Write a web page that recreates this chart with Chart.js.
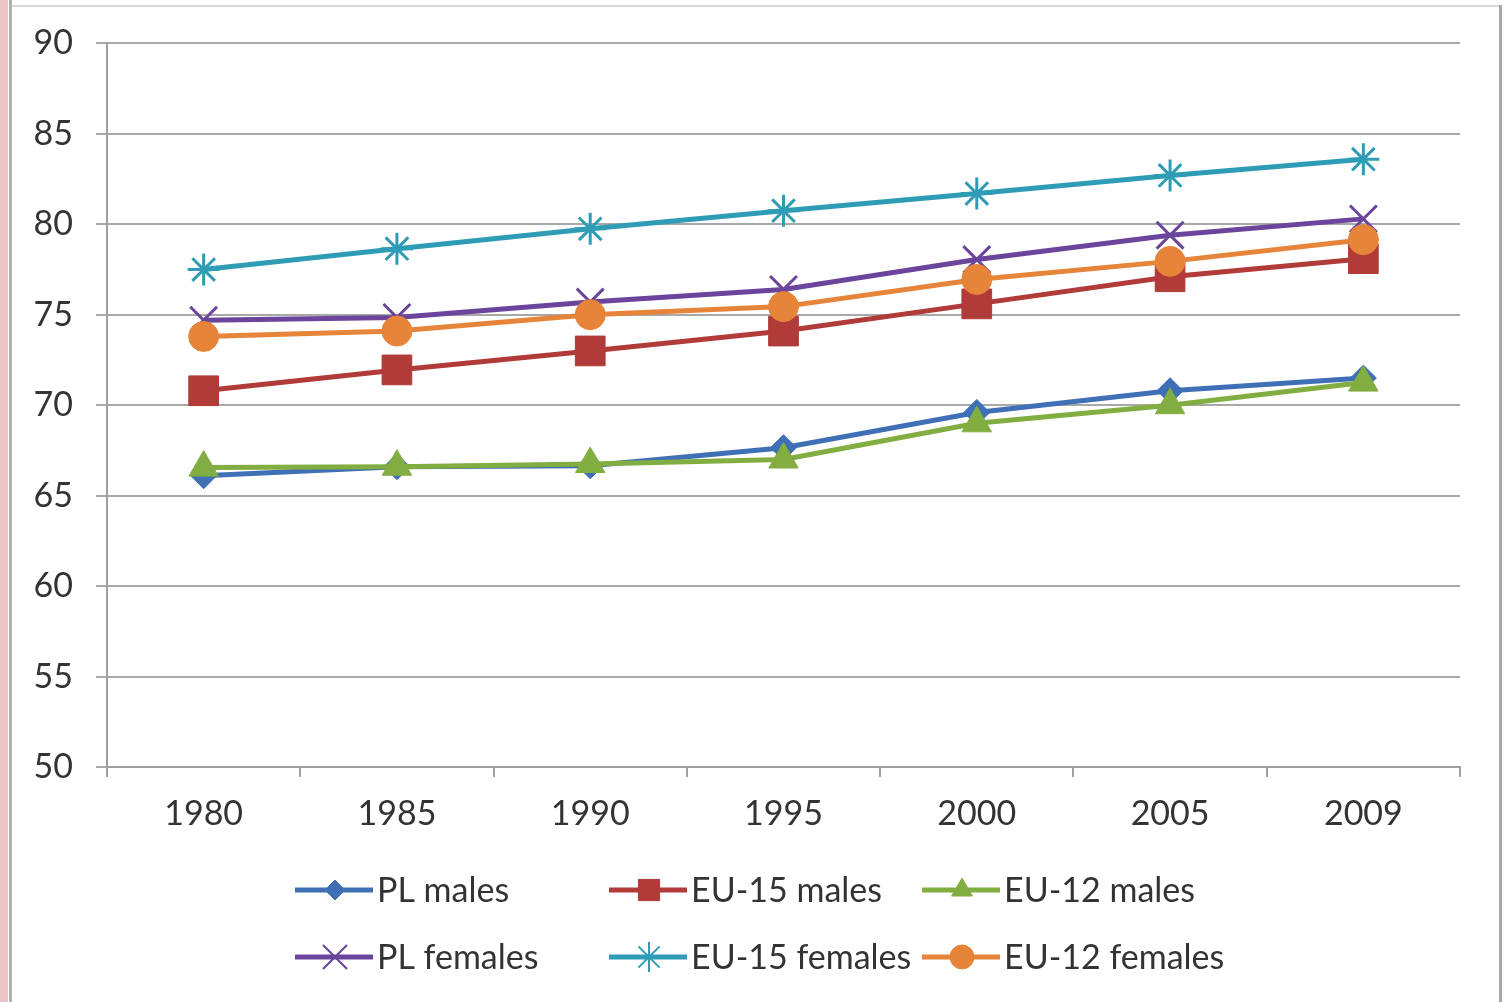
<!DOCTYPE html>
<html>
<head>
<meta charset="utf-8">
<script src="https://cdn.jsdelivr.net/npm/chart.js@4.4.0/dist/chart.umd.min.js"></script>
<style>
  html, body { margin: 0; padding: 0; background: #fff; }
  #wrap { position: relative; width: 1505px; height: 1002px; overflow: hidden; }
  #pink { position: absolute; left: 0; top: 0; width: 8px; height: 1002px; background: #e8c6c6; }
  #lb { position: absolute; left: 9px; top: 0; width: 3px; height: 1002px; background: #b0b0b0; }
  #tb { position: absolute; left: 12px; top: 5px; width: 1490px; height: 2px; background: #d8d8d8; }
  #rb { position: absolute; left: 1499px; top: 5px; width: 3px; height: 1002px; background: #a8a8a8; }
  canvas { position: absolute; left: 0; top: 0; }
</style>
</head>
<body>
<div id="wrap">
  <div id="pink"></div><div id="lb"></div><div id="tb"></div><div id="rb"></div>
  <canvas id="stage1" width="1505" height="1002"></canvas>
</div>
<script>
var years = ['1980', '1985', '1990', '1995', '2000', '2005', '2009'];

var plMales      = [66.1, 66.6, 66.65, 67.65, 69.6, 70.8, 71.5];
var eu15Males    = [70.8, 71.95, 73.0, 74.1, 75.6, 77.1, 78.1];
var eu12Males    = [66.55, 66.6, 66.75, 67.0, 69.0, 70.0, 71.25];
var plFemales    = [74.7, 74.85, 75.7, 76.4, 78.05, 79.4, 80.3];
var eu15Females  = [77.5, 78.65, 79.75, 80.75, 81.7, 82.7, 83.6];
var eu12Females  = [73.8, 74.1, 75.0, 75.45, 76.95, 77.95, 79.15];

var seriesNames = ['PL males', 'EU-15 males', 'EU-12 males', 'PL females', 'EU-15 females', 'EU-12 females'];

// line colours / marker styles (Excel 2007 look)
var colors  = ['#3f6fb5', '#b03b39', '#82ad40', '#6b449b', '#2f9cb5', '#e6843a'];
var styles  = ['rectRot', 'rect', 'triangle', 'crossRot', 'star', 'circle'];
var radii   = [13, 21, 17, 19, 16, 15];
var legRad  = [10, 15, 12, 17, 15, 12];

var canvas1 = document.getElementById('stage1');
var FONT = 'Lato, "Open Sans", sans-serif';

// custom legend: line + marker, two rows of three
var lineLegend = {
  id: 'lineLegend',
  afterDraw: function(chart) {
    var ctx = chart.ctx;
    var colX = [295, 609, 922];
    var rowY = [890, 957];
    ctx.save();
    chart.data.datasets.forEach(function(ds, i) {
      var x = colX[i % 3], y = rowY[Math.floor(i / 3)];
      ctx.strokeStyle = ds.borderColor;
      ctx.lineWidth = 5;
      ctx.beginPath();
      ctx.moveTo(x, y);
      ctx.lineTo(x + 78, y);
      ctx.stroke();
      ctx.fillStyle = ds.borderColor;
      ctx.strokeStyle = ds.borderColor;
      ctx.lineWidth = ds.pointStyle.indexOf('cross') === 0 || ds.pointStyle === 'star' ? 2 : 1;
      Chart.helpers.drawPoint(ctx, {pointStyle: ds.pointStyle, rotation: 0, radius: legRad[i], borderWidth: ctx.lineWidth}, x + 40, y);
      ctx.fillStyle = '#333333';
      ctx.font = '34px ' + FONT;
      ctx.textBaseline = 'middle';
      ctx.textAlign = 'left';
      ctx.fillText(ds.label, x + 82, y + 1);
    });
    ctx.restore();
  }
};

var allData = [plMales, eu15Males, eu12Males, plFemales, eu15Females, eu12Females];
var datasets = [];
for (var i = 0; i < allData.length; i++) {
  var thin = styles[i] === 'crossRot' || styles[i] === 'star';
  datasets.push({
    label: seriesNames[i],
    data: allData[i],
    borderColor: colors[i],
    backgroundColor: colors[i],
    borderWidth: 5,
    pointStyle: styles[i],
    pointRadius: radii[i],
    pointHoverRadius: radii[i],
    pointBorderWidth: thin ? 3 : 1,
    pointBackgroundColor: colors[i],
    pointBorderColor: colors[i],
    tension: 0,
    order: 5 - i   // later series on top, like Excel
  });
}

var chart = new Chart(canvas1, {
  type: 'line',
  data: { labels: years, datasets: datasets },
  plugins: [lineLegend],
  options: {
    responsive: false,
    animation: false,
    events: [],
    layout: { padding: { top: 27, right: 45, left: 0, bottom: 0 } },
    plugins: {
      legend: { display: false },
      tooltip: { enabled: false }
    },
    scales: {
      x: {
        offset: true,
        grid: { offset: true, drawOnChartArea: false, drawTicks: true, tickLength: 10, color: '#a0a0a0', lineWidth: 2 },
        border: { color: '#a0a0a0', width: 2 },
        ticks: { color: '#333333', font: { size: 34, family: FONT }, padding: 17, maxRotation: 0 },
        afterFit: function(scale) { scale.height = 235; }
      },
      y: {
        min: 50,
        max: 90,
        grid: { color: '#a8a8a8', lineWidth: 2, tickLength: 11 },
        border: { color: '#a0a0a0', width: 2 },
        ticks: { stepSize: 5, color: '#333333', font: { size: 34, family: FONT }, padding: 23 },
        afterFit: function(scale) { scale.width = 107; }
      }
    }
  }
});
</script>
</body>
</html>
